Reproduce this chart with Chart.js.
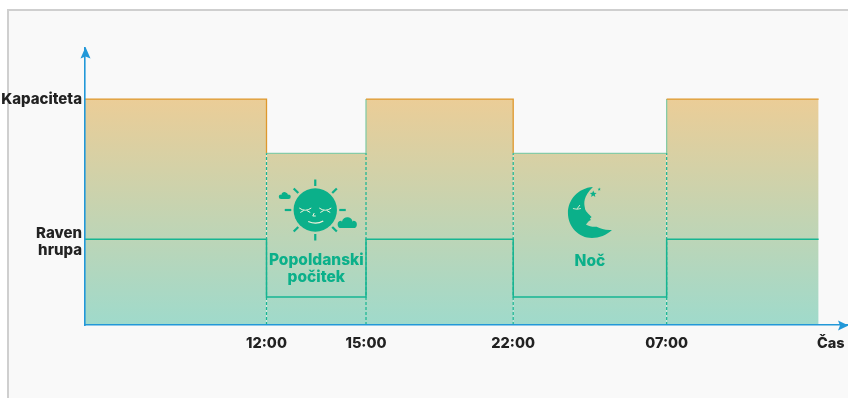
<!DOCTYPE html>
<html>
<head>
<meta charset="utf-8">
<title>Kapaciteta in raven hrupa</title>
<script src="https://cdn.jsdelivr.net/npm/chart.js@4/dist/chart.umd.min.js"></script>
<style>
    html, body { margin: 0; padding: 0; background: #fff; overflow: hidden; }
    #frame { position: absolute; left: 7px; top: 9px; width: 841px; height: 389px; box-sizing: border-box;
             background: #f9f9f9; border-left: 2px solid #cfcfcf; border-top: 2px solid #cfcfcf; }
    #graf { position: absolute; left: 0; top: 0; }
</style>
</head>
<body>
<div id="frame"></div>
<canvas id="graf" width="848" height="398"></canvas>
<script>
// casovna os je shematska, enote niso prave ure
var casi = [0, 11, 17.03, 25.95, 35.25, 44.46];
var kapaciteta = [100, 76, 100, 76, 100, 100];
var hrup = [38, 12.4, 38, 12.4, 38, 38];
var oznakeCasa = ["12:00", "15:00", "22:00", "07:00", "Čas"];
var mestaOznak = [11, 17.03, 25.95, 35.25, 45.2];
var oznakeY = ["Raven hrupa", "Kapaciteta"];
var mestaY = [36.8, 100];
var mejeCrtkano = [11, 17.03, 25.95, 35.25];

var modra = "#2298d8";
var zelena = "#0bb08a";
var pisava = "Inter, sans-serif";

function tocke(vrednosti) {
    return casi.map(function (x, i) { return { x: x, y: vrednosti[i] }; });
}

// navpicne crtkane meje, med njimi prazna tocka da se crta prekine
var crtkano = [];
mejeCrtkano.forEach(function (x) {
    crtkano.push({ x: x, y: 0 }, { x: x, y: 76 }, { x: x, y: null });
});

// puscici na koncih osi
var puscice = {
    id: "puscice",
    afterDraw: function (chart) {
        var c = chart.ctx, a = chart.chartArea;
        c.save();
        c.fillStyle = modra;
        c.beginPath();
        c.moveTo(a.left + 0.5, 47);
        c.lineTo(a.left + 5.5, 58.5);
        c.lineTo(a.left + 0.5, 56.5);
        c.lineTo(a.left - 4.5, 58.5);
        c.closePath();
        c.fill();
        c.beginPath();
        c.moveTo(848.5, a.bottom + 0.5);
        c.lineTo(838, a.bottom + 5.5);
        c.lineTo(840, a.bottom + 0.5);
        c.lineTo(838, a.bottom - 4.5);
        c.closePath();
        c.fill();
        c.restore();
    }
};

function oblak(c, x, y, s) {
    c.beginPath();
    c.arc(x - 5 * s, y - 2.5 * s, 3 * s, Math.PI * 0.5, Math.PI * 1.5);
    c.arc(x, y - 4 * s, 4.5 * s, Math.PI * 1.05, Math.PI * 1.95);
    c.arc(x + 5 * s, y - 2.5 * s, 3 * s, Math.PI * 1.5, Math.PI * 0.5);
    c.closePath();
    c.fill();
}

function sonce(c, x, y) {
    c.save();
    c.translate(x, y);
    c.fillStyle = zelena;
    c.strokeStyle = zelena;
    c.lineWidth = 2.2;
    c.beginPath();
    c.arc(0, 0, 21.7, 0, Math.PI * 2);
    c.fill();
    for (var i = 0; i < 8; i++) {
        var k = i * Math.PI / 4;
        c.beginPath();
        c.moveTo(Math.cos(k) * 24, Math.sin(k) * 24);
        c.lineTo(Math.cos(k) * 30.5, Math.sin(k) * 30.5);
        c.stroke();
    }
    oblak(c, -30.5, -11.5, 0.75);
    oblak(c, 32, 17.4, 1.2);
    // obraz
    c.strokeStyle = "#f3f2dc";
    c.lineWidth = 1;
    [-10, 10].forEach(function (ox) {
        c.beginPath();
        c.moveTo(ox - 6, -2);
        c.quadraticCurveTo(ox, 2.5, ox + 6, -2);
        c.moveTo(ox - 5, 2.5);
        c.lineTo(ox - 1.5, 0.5);
        c.moveTo(ox + 5, 2.5);
        c.lineTo(ox + 1.5, 0.5);
        c.stroke();
    });
    c.beginPath();
    c.moveTo(-1, 3);
    c.lineTo(-2.5, 6);
    c.lineTo(0.5, 6);
    c.stroke();
    c.lineWidth = 1.3;
    c.beginPath();
    c.moveTo(-7, 11.5);
    c.quadraticCurveTo(1, 15, 8, 11);
    c.stroke();
    c.restore();
}

function zvezda(c, x, y, r) {
    c.beginPath();
    for (var i = 0; i < 10; i++) {
        var k = -Math.PI / 2 + i * Math.PI / 5;
        var d = i % 2 ? r * 0.45 : r;
        c.lineTo(x + Math.cos(k) * d, y + Math.sin(k) * d);
    }
    c.closePath();
    c.fill();
}

function luna(c, x, y) {
    c.save();
    c.translate(x, y);
    c.fillStyle = zelena;
    c.beginPath();
    c.moveTo(3, -25);
    c.bezierCurveTo(-12, -24, -22, -12, -22, 1);
    c.bezierCurveTo(-22, 15, -11, 26, 2, 26);
    c.bezierCurveTo(9, 26, 17, 23, 22, 18);
    c.bezierCurveTo(15, 18.5, 11, 16.5, 6.7, 14.7);
    c.bezierCurveTo(3, 15, -1, 14.5, -4, 12.5);
    c.lineTo(-1, 9);
    c.lineTo(1, 8);
    c.lineTo(0, 6.5);
    c.lineTo(1.7, 5);
    c.bezierCurveTo(-1, 2, -5, -1, -5, -4);
    c.bezierCurveTo(-6, -9, -7, -15, 3, -25);
    c.closePath();
    c.fill();
    zvezda(c, 3.3, -18, 3.6);
    zvezda(c, 9.3, -22.7, 1.7);
    c.strokeStyle = "#e4ead0";
    c.lineWidth = 0.9;
    c.beginPath();
    c.moveTo(-17, -3.5);
    c.quadraticCurveTo(-13, -2, -9, -3.5);
    c.moveTo(-13, -3);
    c.lineTo(-10, -7);
    c.stroke();
    c.restore();
}

// ikoni in napisa za popoldanski pocitek in noc
var obdobja = {
    id: "obdobja",
    afterDatasetsDraw: function (chart) {
        var c = chart.ctx, sx = chart.scales.x;
        var sredina1 = (sx.getPixelForValue(casi[1]) + sx.getPixelForValue(casi[2])) / 2;
        var sredina2 = (sx.getPixelForValue(casi[3]) + sx.getPixelForValue(casi[4])) / 2;
        sonce(c, sredina1 - 1, 210);
        luna(c, sredina2, 212);
        c.save();
        c.fillStyle = zelena;
        c.font = "800 15.5px " + pisava;
        c.textAlign = "center";
        c.textBaseline = "middle";
        c.fillText("Popoldanski", sredina1, 260.5);
        c.fillText("počitek", sredina1, 277.5);
        c.fillText("Noč", sredina2, 261);
        c.restore();
    }
};

var ctx = document.getElementById("graf");
var graf = new Chart(ctx, {
    type: "line",
    data: {
        datasets: [
            {
                label: "Kapaciteta",
                data: tocke(kapaciteta),
                order: 3,
                stepped: true,
                pointRadius: 0,
                borderWidth: 1.3,
                borderColor: "#df982c",
                segment: {
                    borderColor: function (s) { return s.p0.parsed.y < 100 ? "#86cba6" : "#df982c"; }
                },
                fill: "origin",
                backgroundColor: function (context) {
                    var a = context.chart.chartArea;
                    if (!a) return "#d5d6b0";
                    var y = context.chart.scales.y;
                    var g = context.chart.ctx.createLinearGradient(0, y.getPixelForValue(100), 0, y.getPixelForValue(0));
                    g.addColorStop(0, "#ebcd97");
                    g.addColorStop(1, "#9fdacb");
                    return g;
                }
            },
            {
                label: "Raven hrupa",
                data: tocke(hrup),
                order: 1,
                stepped: true,
                pointRadius: 0,
                borderWidth: 1.5,
                borderColor: "#16b592",
                fill: false
            },
            {
                label: "Meje",
                data: crtkano,
                order: 2,
                pointRadius: 0,
                borderWidth: 1.2,
                borderColor: "#16b592",
                borderDash: [3, 2],
                fill: false,
                spanGaps: false
            }
        ]
    },
    plugins: [puscice, obdobja],
    options: {
        responsive: false,
        animation: false,
        layout: { padding: { top: 48, right: 0, left: 0, bottom: 0 } },
        plugins: { legend: { display: false }, tooltip: { enabled: false } },
        scales: {
            x: {
                type: "linear",
                min: 0,
                max: 46.24,
                grid: { display: false, tickLength: 0 },
                border: { display: true, color: modra, width: 1.6, z: 2 },
                afterFit: function (s) { s.height = 73; s.paddingRight = 0; s.paddingLeft = 0; },
                afterBuildTicks: function (s) {
                    s.ticks = mestaOznak.map(function (v) { return { value: v }; });
                },
                ticks: {
                    autoSkip: false,
                    maxRotation: 0,
                    padding: 10,
                    color: "#222",
                    font: { family: pisava, weight: "800", size: 14.5 },
                    callback: function (v) { return oznakeCasa[mestaOznak.indexOf(v)]; }
                }
            },
            y: {
                min: 0,
                max: 122.6,
                grid: { display: false, tickLength: 0 },
                border: { display: true, color: modra, width: 1.6, z: 2 },
                afterFit: function (s) { s.width = 85; },
                afterBuildTicks: function (s) {
                    s.ticks = mestaY.map(function (v) { return { value: v }; });
                },
                ticks: {
                    autoSkip: false,
                    padding: 3,
                    color: "#222",
                    font: { family: pisava, weight: "800", size: 15, lineHeight: 1.13 },
                    callback: function (v) {
                        var t = oznakeY[mestaY.indexOf(v)];
                        return t.indexOf(" ") > 0 ? t.split(" ") : t;
                    }
                }
            }
        }
    }
});
</script>
</body>
</html>
